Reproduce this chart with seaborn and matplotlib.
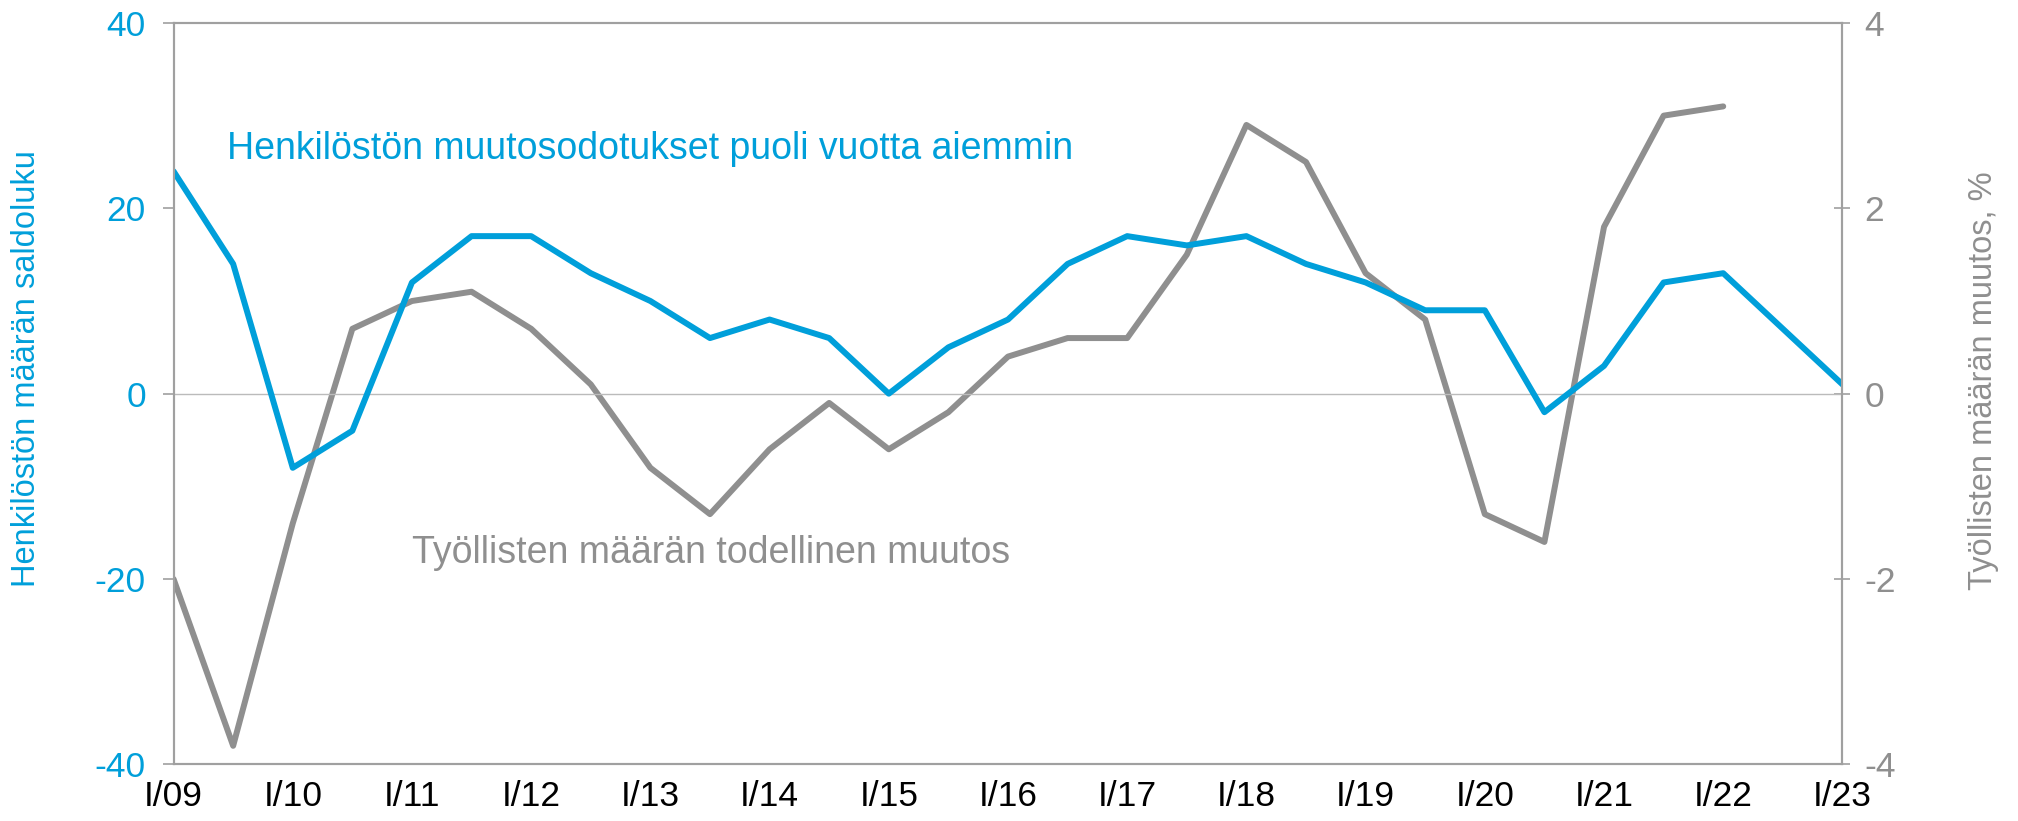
import numpy as np
import pandas as pd
import matplotlib.pyplot as plt
import seaborn as sns

# half-year periods from I/09 to I/23
periods = np.arange(2009, 2023.01, 0.5)

odotukset = [24, 14, -8, -4, 12, 17, 17, 13, 10, 6, 8, 6, 0, 5, 8, 14,
             17, 16, 17, 14, 12, 9, 9, -2, 3, 12, 13, 7, 1]
toteutunut = [-2.0, -3.8, -1.4, 0.7, 1.0, 1.1, 0.7, 0.1, -0.8, -1.3, -0.6, -0.1,
              -0.6, -0.2, 0.4, 0.6, 0.6, 1.5, 2.9, 2.5, 1.3, 0.8, -1.3, -1.6,
              1.8, 3.0, 3.1]

tick_years = np.arange(2009, 2024)
tick_labels = ["I/%02d" % (y % 100) for y in tick_years]

blue = "#009FDA"
gray = "#8F8F8F"
axis_gray = "#A0A0A0"

sns.set_style("white")
plt.rcParams["font.family"] = ["Liberation Sans", "DejaVu Sans"]
plt.rcParams["axes.unicode_minus"] = False

df1 = pd.DataFrame({"t": periods, "v": odotukset})
df2 = pd.DataFrame({"t": periods[:len(toteutunut)], "v": toteutunut})

fig = plt.figure(figsize=(20.18, 8.21), dpi=100)
ax = fig.add_axes([0.086, 0.069, 0.827, 0.903])
ax2 = ax.twinx()

sns.lineplot(data=df2, x="t", y="v", ax=ax2, color=gray, linewidth=4.3)
sns.lineplot(data=df1, x="t", y="v", ax=ax, color=blue, linewidth=4.3)

# blue line on top
ax.set_zorder(2)
ax.patch.set_visible(False)
ax2.set_zorder(1)

ax.axhline(0, color="#BBBBBB", linewidth=1, zorder=0)

ax.set_xlim(2009, 2023)
ax.set_ylim(-40, 40)
ax2.set_ylim(-4, 4)
ax.set_yticks([-40, -20, 0, 20, 40])
ax2.set_yticks([-4, -2, 0, 2, 4])
ax.set_xticks(tick_years)
ax.set_xticklabels(tick_labels)

ax.set_xlabel("")
ax2.set_xlabel("")
ax.set_ylabel("Henkilöstön määrän saldoluku", color=blue, fontsize=23.5)
ax2.set_ylabel("Työllisten määrän muutos, %", color=gray, fontsize=23.5)
ax.yaxis.set_label_coords(-0.079, 0.534)
ax2.yaxis.set_label_coords(1.075, 0.518)

ax.tick_params(axis="y", colors=axis_gray, labelcolor=blue, labelsize=25.5, length=8, width=1.2, direction="out", pad=12)
ax.tick_params(axis="x", colors=axis_gray, labelcolor="black", labelsize=25.5, length=8, width=1.2, direction="out", pad=3)
ax2.tick_params(axis="y", colors=axis_gray, labelcolor=gray, labelsize=25.5, length=12, width=1.2, direction="inout", pad=10)

for a in (ax, ax2):
    for s in a.spines.values():
        s.set_color(axis_gray)
        s.set_linewidth(1.5)
        s.set_visible(True)

ax.text(2009.45, 26.4, "Henkilöstön muutosodotukset puoli vuotta aiemmin",
        color=blue, fontsize=27, va="center", ha="left")
ax.text(2011.0, -17.2, "Työllisten määrän todellinen muutos",
        color=gray, fontsize=27, va="center", ha="left")

fig.savefig("out.png", dpi=100)
